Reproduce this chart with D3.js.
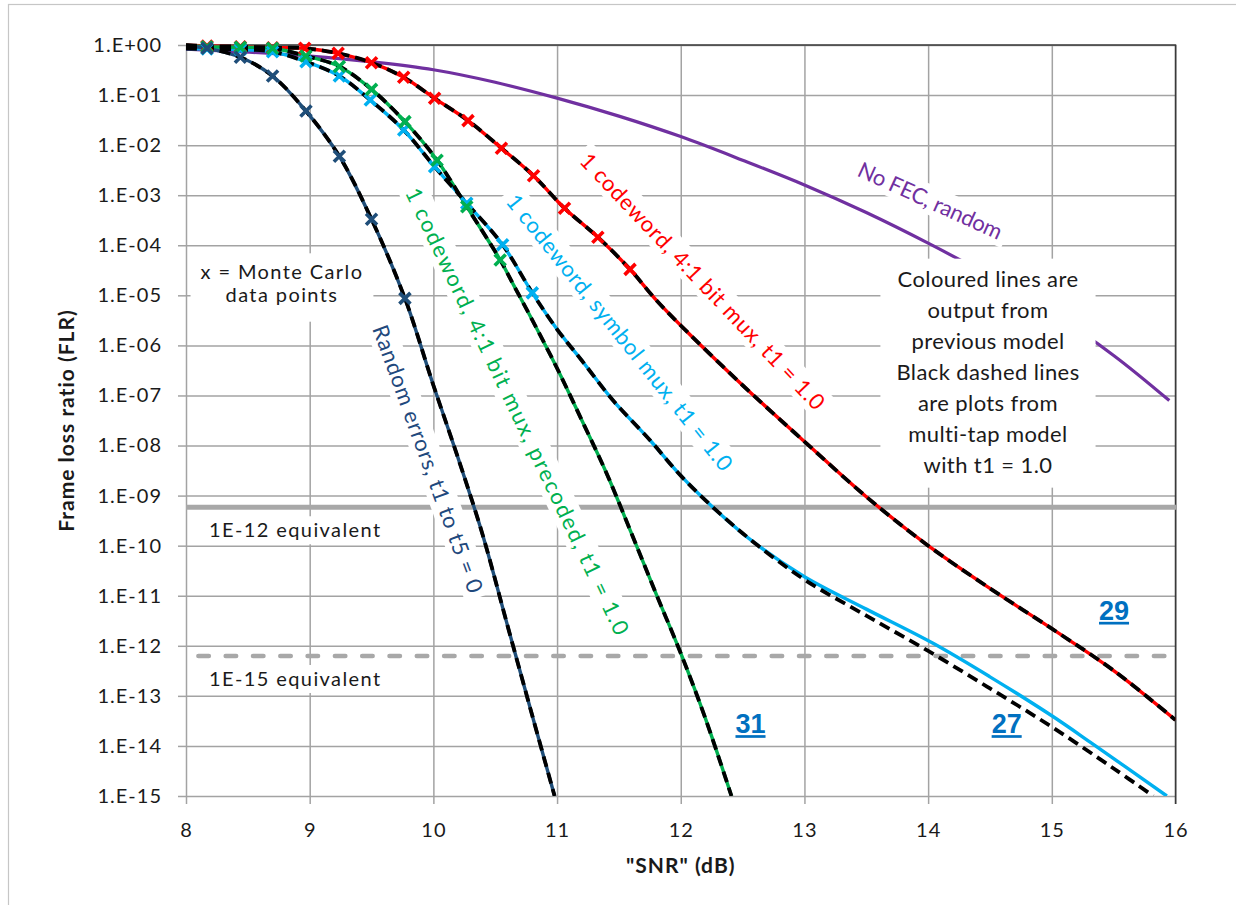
<!DOCTYPE html>
<html lang="en">
<head>
<meta charset="UTF-8">
<title>Frame loss ratio vs SNR</title>
<script src="https://d3js.org/d3.v7.min.js"></script>
<style>
  body { margin: 0; background: #fff; }
  svg { display: block; font-family: Lato, "Open Sans", sans-serif; }
  .grid line { stroke: #a3a3a3; stroke-width: 1.5px; }
  .axis line { stroke: #a3a3a3; stroke-width: 1.5px; }
  .axis text { fill: #1a1a1a; font-size: 20px; letter-spacing: 1px; }
  .title { font-weight: bold; font-size: 21px; letter-spacing: 1px; fill: #1a1a1a; }
  .note { font-size: 20px; letter-spacing: 1.4px; fill: #1a1a1a; }
  .note-big { font-size: 22px; letter-spacing: 0.4px; fill: #1a1a1a; }
  .tag { font-size: 22px; }
  .ref { font-family: "Liberation Sans", Arial, sans-serif; font-weight: bold; font-size: 27px;
         fill: #0070c0; text-decoration: underline; }
</style>
</head>
<body>
<div id="chart"></div>
<script>
// ---- data ----
const snrTicks = [8, 9, 10, 11, 12, 13, 14, 15, 16];
const flrTickLabels = ["1.E+00", "1.E-01", "1.E-02", "1.E-03", "1.E-04", "1.E-05", "1.E-06", "1.E-07",
                       "1.E-08", "1.E-09", "1.E-10", "1.E-11", "1.E-12", "1.E-13", "1.E-14", "1.E-15"];

// No FEC, random
const noFecSnr = [8, 8.5, 9, 9.5, 10, 10.5, 11, 11.5, 12, 12.5, 13, 13.5, 14, 14.5, 15, 15.5, 15.95];
const noFecFlr = [0.83, 0.72, 0.60, 0.46, 0.32, 0.18, 0.087, 0.038, 0.0148, 5.0e-3, 1.6e-3, 4.5e-4,
                  1.1e-4, 2.4e-5, 4.5e-6, 6.3e-7, 7.9e-8];

// 1 codeword, 4:1 bit mux, t1 = 1.0
const bitMuxSnr = [8, 8.17, 8.44, 8.70, 8.96, 9.23, 9.50, 9.76, 10.01, 10.28, 10.55, 10.81, 11.06, 11.33,
                   11.59, 11.8, 12.0, 12.5, 13.0, 13.5, 14.0, 14.5, 15.0, 15.5, 16.0];
const bitMuxFlr = [0.99, 0.955, 0.925, 0.883, 0.859, 0.682, 0.443, 0.226, 0.0861, 0.0309, 8.7e-3, 2.45e-3,
                   5.5e-4, 1.45e-4, 3.3e-5, 8.1e-6, 2.5e-6, 1.6e-7, 1.2e-8, 9.5e-10, 1.0e-10, 1.4e-11,
                   2.2e-12, 3.2e-13, 3.3e-14];
const bitMuxMcSnr = [8.17, 8.44, 8.70, 8.96, 9.23, 9.50, 9.76, 10.01, 10.28, 10.55, 10.81, 11.06, 11.33, 11.59];
const bitMuxMcFlr = [0.955, 0.925, 0.883, 0.859, 0.682, 0.443, 0.226, 0.0861, 0.0309, 8.7e-3, 2.45e-3,
                     5.5e-4, 1.45e-4, 3.3e-5];

// 1 codeword, symbol mux, t1 = 1.0
const symSnr = [8, 8.17, 8.44, 8.70, 8.97, 9.24, 9.49, 9.76, 10.01, 10.27, 10.56, 10.80, 11.0, 11.2, 11.45,
                11.75, 12.0, 12.29, 12.6, 13.0, 13.5, 14.04, 14.5, 15.0, 15.33, 15.93];
const symFlr = [0.851, 0.832, 0.813, 0.735, 0.463, 0.24, 0.0794, 0.02, 3.7e-3, 6.9e-4, 1.02e-4, 1.12e-5,
                2.1e-6, 5.0e-7, 8.1e-8, 1.29e-8, 2.5e-9, 5.0e-10, 1.12e-10, 2.4e-11, 5.4e-12, 1.12e-12,
                2.4e-13, 4.0e-14, 1.1e-14, 1.0e-15];
const symMcSnr = [8.17, 8.44, 8.70, 8.97, 9.24, 9.49, 9.76, 10.01, 10.27, 10.56, 10.80];
const symMcFlr = [0.832, 0.813, 0.735, 0.463, 0.24, 0.0794, 0.02, 3.7e-3, 6.9e-4, 1.02e-4, 1.12e-5];
// multi-tap model departs from the symbol mux line in the tail
const symTapTailSnr = [13.0, 13.5, 14.0, 14.5, 15.0, 15.5, 15.82];
const symTapTailFlr = [2.1e-11, 4.0e-12, 7.9e-13, 1.41e-13, 2.4e-14, 3.55e-15, 1.0e-15];

// 1 codeword, 4:1 bit mux, precoded, t1 = 1.0
const precSnr = [8, 8.17, 8.44, 8.70, 8.97, 9.24, 9.50, 9.77, 10.03, 10.27, 10.54, 10.65, 10.8, 11.0, 11.2,
                 11.4, 11.6, 11.8, 12.0, 12.2, 12.41];
const precFlr = [0.977, 0.925, 0.90, 0.859, 0.603, 0.372, 0.130, 0.0295, 5.0e-3, 5.9e-4, 5.1e-5, 1.58e-5,
                 3.2e-6, 3.5e-7, 3.2e-8, 2.8e-9, 1.8e-10, 1.1e-11, 7.1e-13, 3.5e-14, 1.0e-15];
const precMcSnr = [8.17, 8.44, 8.70, 8.97, 9.24, 9.50, 9.77, 10.03, 10.27, 10.54];
const precMcFlr = [0.925, 0.90, 0.859, 0.603, 0.372, 0.130, 0.0295, 5.0e-3, 5.9e-4, 5.1e-5];

// Random errors, t1 to t5 = 0
const randSnr = [8, 8.17, 8.44, 8.70, 8.97, 9.24, 9.50, 9.77, 10.0, 10.2, 10.4, 10.6, 10.8, 10.98];
const randFlr = [0.955, 0.859, 0.568, 0.24, 0.0479, 6.0e-3, 3.3e-4, 8.7e-6, 1.6e-7, 5.6e-9, 1.6e-10,
                 2.5e-12, 4.0e-14, 1.0e-15];
const randMcSnr = [8.17, 8.44, 8.70, 8.97, 9.24, 9.50, 9.77];
const randMcFlr = [0.859, 0.568, 0.24, 0.0479, 6.0e-3, 3.3e-4, 8.7e-6];

// equivalence thresholds
const thresholdFlr = [5.85e-10, 6.26e-13];
const thresholdText = ["1E-12 equivalent", "1E-15 equivalent"];

// ---- chart ----
const W = 1236, H = 905;
const plot = { left: 186, top: 45, right: 1175.5, bottom: 796 };

const zip = (a, b) => a.map((v, i) => [v, b[i]]);

const svg = d3.select("#chart").append("svg").attr("width", W).attr("height", H);

// outer frame
svg.append("rect").attr("x", 8.5).attr("y", 4.5).attr("width", W).attr("height", H)
    .attr("fill", "none").attr("stroke", "#c6c6c6").attr("stroke-width", 1.2);

const x = d3.scaleLinear().domain([8, 16]).range([plot.left, plot.right]);
const y = d3.scaleLog().domain([1, 1e-15]).range([plot.top, plot.bottom]);
const flrTicks = flrTickLabels.map(Number);

// grid lines
svg.append("g").attr("class", "grid").attr("transform", `translate(0,${plot.bottom})`)
    .call(d3.axisBottom(x).tickValues(snrTicks).tickSize(-(plot.bottom - plot.top)).tickFormat(""))
    .call(g => g.select(".domain").remove());
svg.append("g").attr("class", "grid").attr("transform", `translate(${plot.left},0)`)
    .call(d3.axisLeft(y).tickValues(flrTicks).tickSize(-(plot.right - plot.left)).tickFormat(""))
    .call(g => g.select(".domain").remove());

// axes (outside ticks + labels)
svg.append("g").attr("class", "axis").attr("transform", `translate(0,${plot.bottom})`)
    .call(d3.axisBottom(x).tickValues(snrTicks).tickSize(8).tickPadding(19).tickFormat(d3.format("d")))
    .call(g => g.select(".domain").remove())
    .attr("font-size", null).attr("font-family", null);
svg.append("g").attr("class", "axis").attr("transform", `translate(${plot.left},0)`)
    .call(d3.axisLeft(y).tickValues(flrTicks).tickSize(8).tickPadding(16)
        .tickFormat((d, i) => flrTickLabels[i]))
    .call(g => g.select(".domain").remove())
    .attr("font-size", null).attr("font-family", null);

// plot border top and right
svg.append("path")
    .attr("d", `M${plot.left},${plot.top}H${plot.right}V${plot.bottom + 8}`)
    .attr("fill", "none").attr("stroke", "#3a3a3a").attr("stroke-width", 1.5);

// axis titles
svg.append("text").attr("class", "title").attr("text-anchor", "middle")
    .attr("transform", `translate(74,${(plot.top + plot.bottom) / 2}) rotate(-90)`)
    .text("Frame loss ratio (FLR)");
svg.append("text").attr("class", "title").attr("text-anchor", "middle")
    .attr("x", (plot.left + plot.right) / 2).attr("y", 873)
    .text("\"SNR\" (dB)");

// thresholds
svg.append("line")
    .attr("x1", x(8)).attr("x2", x(16) + 1).attr("y1", y(thresholdFlr[0])).attr("y2", y(thresholdFlr[0]))
    .attr("stroke", "#a8a8a8").attr("stroke-width", 5);
svg.append("line")
    .attr("x1", x(8.1)).attr("x2", x(16)).attr("y1", y(thresholdFlr[1])).attr("y2", y(thresholdFlr[1]))
    .attr("stroke", "#a8a8a8").attr("stroke-width", 4.5)
    .attr("stroke-linecap", "round").attr("stroke-dasharray", "10.5 16.8");

svg.append("defs").append("clipPath").attr("id", "clip")
    .append("rect").attr("x", plot.left).attr("y", plot.top - 8)
    .attr("width", plot.right - plot.left).attr("height", plot.bottom - plot.top + 8);

const line = d3.line().x(d => x(d[0])).y(d => y(d[1])).curve(d3.curveCatmullRom.alpha(0.5));

// purple line sits underneath the text boxes
svg.append("path").attr("clip-path", "url(#clip)")
    .attr("d", line(zip(noFecSnr, noFecFlr)))
    .attr("fill", "none").attr("stroke", "#7030a0").attr("stroke-width", 3.2);

// ---- text boxes (white background hides the grid) ----
const boxLayer = svg.append("g");

function boxed(g, textSel, padX, padTop, padBottom) {
    const b = textSel.node().getBBox();
    g.insert("rect", "text")
        .attr("x", b.x - padX).attr("y", b.y - padTop)
        .attr("width", b.width + 2 * padX).attr("height", b.height + padTop + padBottom)
        .attr("fill", "#fff");
}

function multiline(g, lines, cls, cx, baseline, step) {
    const t = g.append("text").attr("class", cls).attr("text-anchor", "middle");
    lines.forEach((s, i) => {
        t.append("tspan").attr("x", cx).attr("y", baseline + i * step).text(s);
    });
    return t;
}

const mcNote = boxLayer.append("g");
boxed(mcNote, multiline(mcNote, ["x = Monte Carlo", "data points"], "note", x(8.776), y(2.09e-5), 22.4), 10, 6, 16);

const modelNote = boxLayer.append("g");
boxed(modelNote, multiline(modelNote,
    ["Coloured lines are", "output from", "previous model", "Black dashed lines",
     "are plots from", "multi-tap model", "with t1 = 1.0"],
    "note-big", x(14.484), y(1.49e-5), 31), 16, 6, 10);

thresholdFlr.forEach((v, i) => {
    const g = boxLayer.append("g");
    const t = g.append("text").attr("class", "note")
        .attr("x", x(8.186)).attr("y", y(v) + 30).text(thresholdText[i]);
    boxed(g, t, 8, 1, 3);
});

const curveLabels = [
    { text: "No FEC, random", color: "#7030a0", snr: 14.02, flr: 8.0e-4, angle: 24.5, len: 156 },
    { text: "1 codeword, 4:1 bit mux, t1 = 1.0", color: "#ff0000", snr: 12.18, flr: 1.94e-5, angle: 46.5, len: 344 },
    { text: "1 codeword, symbol mux, t1 = 1.0", color: "#00b0f0", snr: 11.51, flr: 1.85e-6, angle: 51.3, len: 347 },
    { text: "1 codeword, 4:1 bit mux, precoded, t1 = 1.0", color: "#00b050", snr: 10.684, flr: 4.9e-8, angle: 64.6, len: 492 },
    { text: "Random errors, t1 to t5 = 0", color: "#1f497d", snr: 9.96, flr: 5.5e-9, angle: 70, len: 283 }
];

curveLabels.forEach(d => {
    const g = boxLayer.append("g")
        .attr("transform", `translate(${x(d.snr)},${y(d.flr)}) rotate(${d.angle})`);
    const t = g.append("text").attr("class", "tag").attr("text-anchor", "middle")
        .attr("dominant-baseline", "central").attr("fill", d.color)
        .attr("textLength", d.len).attr("lengthAdjust", "spacing").text(d.text);
    boxed(g, t, 6, 1, 1);
});

// ---- model lines ----
const models = [
    { color: "#ff0000", pts: zip(bitMuxSnr, bitMuxFlr), tap: zip(bitMuxSnr, bitMuxFlr), mc: zip(bitMuxMcSnr, bitMuxMcFlr) },
    { color: "#00b0f0", pts: zip(symSnr, symFlr),
      tap: zip(symSnr, symFlr).filter(d => d[0] <= 12.6).concat(zip(symTapTailSnr, symTapTailFlr)),
      mc: zip(symMcSnr, symMcFlr) },
    { color: "#00b050", pts: zip(precSnr, precFlr), tap: zip(precSnr, precFlr), mc: zip(precMcSnr, precMcFlr) },
    { color: "#1f4e79", pts: zip(randSnr, randFlr), tap: zip(randSnr, randFlr), mc: zip(randMcSnr, randMcFlr) }
];

const curveLayer = svg.append("g").attr("clip-path", "url(#clip)");

curveLayer.selectAll(".model").data(models).join("path").attr("class", "model")
    .attr("d", d => line(d.pts))
    .attr("fill", "none").attr("stroke", d => d.color).attr("stroke-width", 3.4);

curveLayer.selectAll(".tap").data(models).join("path").attr("class", "tap")
    .attr("d", d => line(d.tap))
    .attr("fill", "none").attr("stroke", "#000").attr("stroke-width", 3.8)
    .attr("stroke-dasharray", "11 6");

// Monte Carlo markers
const cross = "M-5.5,-5.5L5.5,5.5M-5.5,5.5L5.5,-5.5";
svg.append("g").selectAll("g").data(models).join("g")
    .attr("stroke", d => d.color)
    .selectAll("path").data(d => d.mc).join("path")
    .attr("transform", d => `translate(${x(d[0])},${y(d[1])})`)
    .attr("d", cross).attr("stroke-width", 3.6).attr("fill", "none");

// reference numbers
const refNums = [
    { text: "29", snr: 15.503, flr: 3.3e-12 },
    { text: "27", snr: 14.635, flr: 1.8e-14 },
    { text: "31", snr: 12.564, flr: 1.8e-14 }
];
svg.selectAll(".ref").data(refNums).join("text").attr("class", "ref")
    .attr("text-anchor", "middle").attr("x", d => x(d.snr)).attr("y", d => y(d.flr))
    .text(d => d.text);
</script>
</body>
</html>
